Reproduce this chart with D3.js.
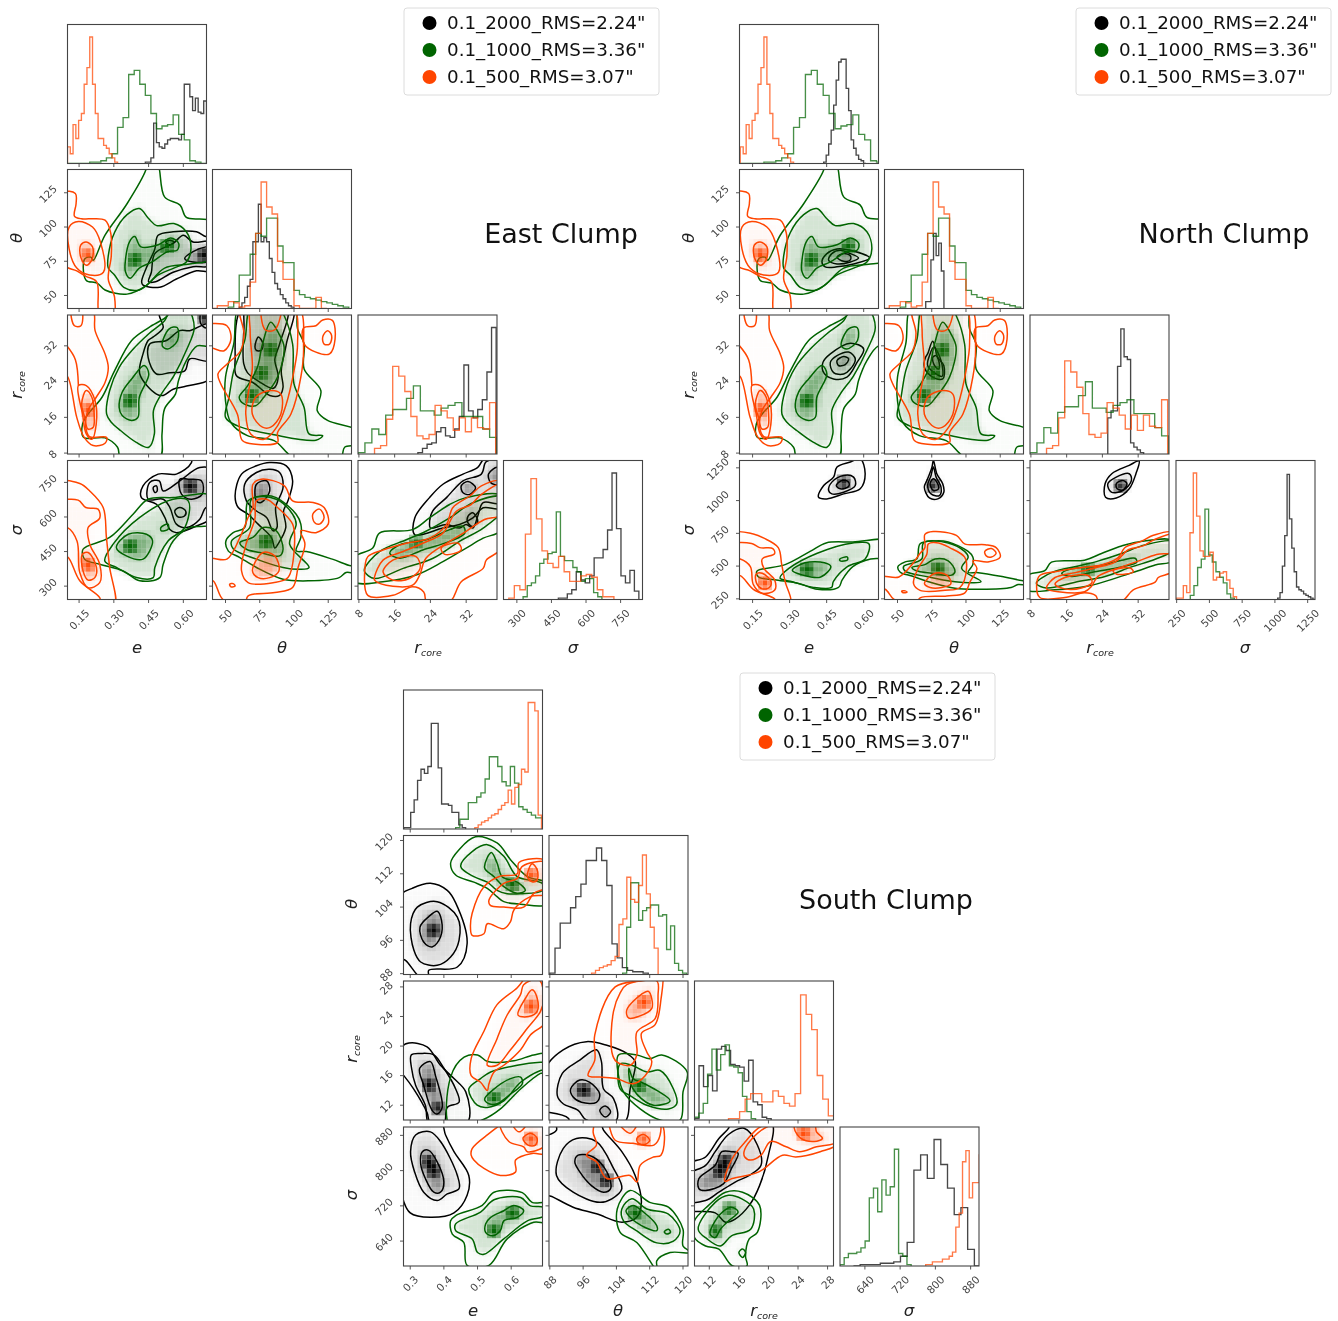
<!DOCTYPE html>
<html><head><meta charset="utf-8">
<script src="https://cdnjs.cloudflare.com/ajax/libs/d3/7.8.5/d3.min.js"></script>
<style>html,body{margin:0;padding:0;background:#fff}svg{display:block;filter:blur(.35px)}text{font-family:"DejaVu Sans",sans-serif}</style>
</head><body><svg id="c" width="1338" height="1321"></svg>
<script>
// ---------- legend / axes ----------
const legendLabels=['0.1_2000_RMS=2.24"','0.1_1000_RMS=3.36"','0.1_500_RMS=3.07"'];
const seriesColors=['#000000','#006400','#ff4500'];
const eTicksEN=[.15,.30,.45,.60], thTicksEN=[50,75,100,125], rTicksEN=[8,16,24,32];
const sTicksE=[300,450,600,750], sTicksN=[250,500,750,1000,1250];
const eTicksS=[.3,.4,.5,.6], thTicksS=[88,96,104,112,120], rTicksS=[12,16,20,24,28], sTicksS=[640,720,800,880];
// ---------- histograms: [first edge, bin width, heights] ----------
const hEOrange=[.1,.012,[12,7,28,18,31,36,57,69,91,57,36,18,18,13,11,7,4,1]];
const hEGreen=[.1,.024,[0,0,0,0,1,1,2,4,7,26,33,64,67,57,49,36,25,27,28,35,21,17,2,1,0]];
const hEBlackE=[.436,.012,[1,1,4,29,15,12,11,14,17,18,18,18,17,21,57,57,48,38,47,37,36,45]];
const hEBlackN=[.438,.0101,[1,6,14,24,42,60,73,75,75,54,38,17,11,6,3,2,0]];
const hTOrange=[40,4,[0,2,2,5,4,1,2,19,54,91,73,68,34,21,21,2,0,0,0,8,0]];
const hTGreen=[52,4,[1,5,24,24,39,54,52,65,65,45,33,33,13,10,8,7,6,5,4,3,2,1]];
const hTBlackE=[60,2,[1,4,8,16,21,48,48,75,48,51,48,36,26,18,14,10,7,4,2,1]];
const hTBlackN=[70.6,1.9,[5,5,35,54,38,47,27]];
const hROrange=[11.5,1.355,[4,6,25,63,56,45,27,13,11,14,35,31,26,17,26,16,26,19,18,37]];
const hRGreen=[7.8,1.55,[1,8,18,14,28,32,32,40,49,31,31,28,33,35,37,27,27,27,18,12]];
const hROrangeN=[11.5,1.355,[4,6,26,67,59,48,29,14,12,15,37,33,28,18,28,17,28,20,19,39]];
const hRGreenN=[7.8,1.55,[1,8,19,15,30,34,34,42,52,33,33,30,35,37,39,29,29,29,19,13]];
const hRBlackE=[21.2,1.03,[1,4,7,8,16,19,13,12,18,27,64,31,26,32,39,59,91]];
const hRBlackN=[25.2,.73,[26,31,31,63,90,70,68,8,5,3,1]];
const hSOrangeE=[265,24,[1,10,7,47,87,58,35,26,23,31,20,13,13,17,18,16,7,2,2]];
const hSGreenE=[327,18,[2,10,12,17,26,29,33,34,63,31,28,28,23,20,13,15,15,5,2]];
const hSBlackE=[480,19.4,[1,1,4,7,20,14,12,17,30,30,36,50,91,51,17,12,21,6]];
const hSOrangeN=[250,25.4,[1,1,10,5,48,91,60,35,31,31,34,14,16,19,20,14,8,2]];
const hSGreenN=[354,28,[3,10,23,29,65,32,27,20,16,12,4,1]];
const hSBlackN=[1021,18,[1,5,24,46,90,58,37,20,9,7,6,4,3,2,1,0]];
const hESBlack=[.281,.0102,[1,1,12,21,35,43,40,45,76,76,44,18,18,17,12,12,3,1]];
const hESGreen=[.435,.0125,[1,7,7,19,19,23,26,36,52,52,45,34,31,45,33,16,14,12,10,8,8]];
const hESOrange=[.492,.0099,[1,3,5,6,8,10,11,14,17,19,28,18,30,32,43,41,91,91,85,10,0]];
const hTSBlack=[88,1.245,[1,19,37,37,48,56,65,82,82,91,82,64,22,12,5,3,2,2,1]];
const hTSGreen=[105.5,.96,[1,34,66,66,39,46,48,50,50,42,43,18,35,8,3,1]];
const hTSOrange=[98.04,.94,[1,3,5,6,7,10,13,36,40,70,54,52,64,86,58,34,19]];
const hRSBlack=[10,.61,[1,39,24,32,21,51,53,50,40,39,38,28,43,13,11,2,1]];
const hRSGreen=[10,.59,[2,5,12,33,51,36,47,54,39,38,34,17,6,1]];
const hRSOrange=[14.6,.75,[1,1,6,15,19,19,13,13,21,17,12,10,19,90,76,65,32,15,3]];
const hSSGreen=[583.5,9.5,[1,6,9,9,10,13,18,49,56,39,62,51,57,84,9,7,1]];
const hSSBlack=[614,15.25,[0,1,1,1,2,2,3,7,17,69,80,63,91,73,56,37,42,12,0]];
const hSSOrange=[778,7.6,[1,1,3,3,3,5,5,7,10,28,38,75,83,49,60,60,80]];
// ---------- credible contours [level, points]: level 0 open line, 1-3 nested, 4 inner line with faint density, 9 density peak ----------
const oET=[[1,[[.08,125],[.134,124.5],[.137,117],[.13,108],[.16,106],[.195,106],[.262,105],[.286,96],[.289,79],[.276,62],[.303,49],[.296,35],[.24,35],[.226,60],[.18,64],[.14,68],[.08,73]]],
[2,[[.107,100],[.147,104],[.208,100],[.242,89],[.255,67],[.195,65],[.14,70],[.107,84]]],
[3,[[.157,86.7],[.181,89],[.208,85.5],[.205,76],[.181,72],[.157,78]]],[9,[[.185,80]]]];
const oER=[[1,[[.208,40],[.219,35.4],[.262,30.2],[.276,27.2],[.262,23.8],[.224,20.5],[.188,17.5],[.178,14.1],[.195,11.7],[.269,11.5],[.262,10.2],[.211,9.7],[.17,11.7],[.14,16],[.097,25.3],[.07,25],[.07,40]]],
[2,[[.147,23.1],[.165,16.7],[.181,12.3],[.205,11.1],[.224,14.5],[.219,19.7],[.181,23.1]]],
[0,[[.097,32],[.134,28.9],[.147,23.1]]],
[1,[[.118,40],[.13,36.5],[.158,36.5],[.16,40]]],
[3,[[.161,19],[.181,22],[.205,20.5],[.215,16.7],[.211,13.8],[.188,13.4],[.174,16]]],[9,[[.185,18]]]];
const oES=[[1,[[.066,750],[.153,745],[.196,713],[.254,641],[.268,511],[.282,381],[.304,221],[.246,221],[.239,250],[.153,323],[.1,427],[.066,427]]],
[2,[[.066,663],[.146,673],[.179,641],[.232,634],[.239,595],[.189,554],[.196,482],[.239,395],[.239,315],[.189,293],[.153,359],[.141,496],[.1,554],[.066,554]]],
[3,[[.164,438],[.189,446],[.225,381],[.218,337],[.189,326],[.167,366]]],[9,[[.195,385]]]];
const oTR=[[1,[[61,41],[63.5,34.7],[61,30.9],[51,27.9],[44.5,25.7],[46.5,23.5],[58.7,16.7],[62.3,10.8],[72,10],[88,10.4],[88,12.6],[97.7,16.7],[105,25],[107,31.7],[102.6,41]]],
[2,[[66.5,21.2],[64.8,16.7],[68.4,12.3],[78.2,11.1],[88,14.1],[94,18.6],[100,26.4],[102.6,32.4],[99,41],[69.6,41],[68,35],[69.6,27]]],
[4,[[69.6,16.7],[72,20.5],[83,22],[90.4,21.2],[90.4,16.7],[83,13.8],[77,13.8]]],
[4,[[77,41],[79,35.6],[86,35.6],[90,41]]],
[1,[[35,37],[40,37],[51,36.5],[54,33.5],[49,30.9],[40,31.5],[35,31.5]]],
[1,[[107,36],[116,36.5],[121,37.8],[128,37.7],[130,33.5],[126,30.2],[116,30.6],[107.5,32.4]]],
[2,[[121,34],[124.5,35.4],[127.5,34.3],[126,32.4],[122,32.4]]]];
const oTS=[[1,[[70,742],[76,764],[93,735],[99,670],[114,663],[122,641],[125,569],[116,532],[105,540],[108,482],[103,381],[99,294],[86,272],[66.5,258],[64,221],[53,221],[47,250],[41,323],[37,323],[37,417],[51,417],[60.5,511],[66.5,598],[70,641]]],
[2,[[72.6,670],[80,677],[88,641],[99,569],[100.4,482],[95.6,337],[84.7,315],[66.5,315],[61.7,366],[65,482],[71.4,590]]],
[3,[[69.7,366],[77.4,446],[86,431],[89,366],[82.3,337],[73.8,337]]],
[2,[[113.7,612],[118.6,634],[122,598],[118.6,569],[115,576]]],
[2,[[53,308],[55.6,311],[57,301],[54,297]]]];
const oRS=[[1,[[10,428],[13.4,457],[18.6,486],[23.8,508],[27.6,567],[29,640],[32.8,691],[35.4,735],[40,754],[40,468],[36.5,413],[35.8,377],[30.9,319],[28.3,231],[23.2,231],[22.5,275],[20,297],[15.6,260],[10,260],[9.3,362]]],
[2,[[11.5,340],[13.4,413],[17.9,450],[22.3,486],[26.8,530],[29.8,625],[33.1,654],[35.4,698],[40,742],[40,611],[36.1,589],[32,538],[28.3,494],[23,421],[21.6,348],[20,304],[14.1,304],[11.5,326]]],
[4,[[13.4,362],[15.6,413],[20.8,428],[21.7,377],[19.3,333],[15.6,326]]],
[2,[[26.4,465],[30.2,486],[30.9,457],[27.2,438]]]];
const gET=[[1,[[.211,75.7],[.262,94],[.357,117],[.438,141.6],[.444,148],[.485,148],[.519,122],[.586,116],[.613,107],[.72,104],[.72,77],[.627,73],[.519,70],[.438,57],[.357,51],[.262,54],[.228,59],[.181,61],[.168,70],[.176,77],[.201,78]]],
[2,[[.276,79],[.303,96],[.357,109],[.41,113.5],[.451,106],[.485,101],[.559,102.5],[.613,96.5],[.633,84],[.613,74.5],[.559,70],[.492,65],[.41,54],[.343,56],[.303,65],[.276,70]]],
[3,[[.35,75.5],[.367,89],[.39,93],[.417,85.5],[.492,87],[.546,92],[.58,88],[.573,83],[.532,82],[.465,74.5],[.41,70],[.37,62.5],[.35,67.5]]],[9,[[.385,75.7],[.53,87]]]];
const gER=[[1,[[.17,11.5],[.165,14.5],[.188,16.7],[.249,20.5],[.303,26.4],[.377,33.2],[.451,36.1],[.532,38.8],[.546,41],[.72,41],[.72,32],[.66,32],[.613,28.7],[.579,24.2],[.566,21.2],[.519,17.9],[.508,12.3],[.498,7],[.33,7],[.316,9.3],[.262,11.4]]],
[2,[[.269,16.7],[.282,22],[.323,27.2],[.377,30.9],[.451,34.7],[.519,37.6],[.546,40],[.62,40],[.647,36.1],[.613,31],[.559,25.3],[.505,21.2],[.471,17.5],[.475,12.3],[.451,9.3],[.397,10.4],[.33,13],[.289,14.9]]],
[3,[[.323,18.2],[.336,21.6],[.377,24.6],[.431,27.6],[.451,25.7],[.41,20.5],[.404,16],[.377,15.3],[.336,16.4]]],
[3,[[.509,32],[.539,35.8],[.573,36.1],[.575,33.2],[.532,31.3]]],[9,[[.375,20]]]];
const gES=[[1,[[.167,460],[.282,511],[.383,612],[.448,677],[.556,684],[.72,692],[.72,569],[.628,554],[.556,496],[.513,395],[.498,337],[.412,323],[.34,366],[.239,395],[.174,417]]],
[2,[[.261,409],[.297,482],[.412,598],[.556,677],[.621,670],[.606,554],[.534,496],[.477,381],[.47,337],[.398,337],[.311,381]]],
[3,[[.311,467],[.362,525],[.441,525],[.467,496],[.426,417],[.354,431]]],
[3,[[.503,554],[.534,569],[.534,547],[.505,540]]],[9,[[.375,480]]]];
const gTR=[[1,[[61,41],[56,32.4],[50,25],[50,19.7],[53.8,14.9],[66,11.9],[85.5,10.8],[100,7],[134,7],[137,9.3],[146.5,10],[146.5,13],[124.5,15.3],[117,17.5],[119.6,22],[107.4,26.8],[107.4,32.4],[102.6,35.8],[100,41]]],
[2,[[69,41],[64,33.2],[56,26.4],[52.6,20.5],[50,16],[58.7,14.1],[85.5,12.1],[116,10.9],[121,11.9],[111,12.3],[107.4,18.2],[100,23.5],[99,32.4],[92.8,38.8],[88,41]]],
[3,[[60,20.5],[66,23],[73.3,27.2],[77,32.4],[83,37.3],[89,34.7],[92.8,31.7],[88,25],[78,20.5],[72,18.6],[63.5,19]]],[9,[[70,21],[82,31],[77,26]]]];
const gTS=[[1,[[50.3,496],[55.6,532],[64,554],[66.5,670],[77.4,692],[87,684],[101.6,612],[105,569],[105,511],[101.6,453],[109,450],[128,417],[141.6,388],[145,388],[145,359],[138,359],[133,337],[111,323],[92,330],[72.6,381],[60.5,424],[52,453]]],
[2,[[54.4,496],[67.7,554],[69,677],[87,677],[99,612],[101.6,569],[96.8,482],[111,381],[104,373],[92,381],[72.6,417],[55.6,462]]],
[3,[[60.5,489],[70,511],[77.4,554],[87,540],[92,460],[89.5,431],[75,446],[65.3,460]]],[9,[[78,490]]]];
const gRS=[[1,[[7,425],[11.1,465],[12.6,530],[20,545],[23.8,596],[28.3,654],[32,684],[40,691],[40,545],[35.8,508],[32,465],[26.8,406],[20.8,348],[13.4,319],[7,319]]],
[2,[[9.3,377],[12.6,450],[18.6,501],[23,538],[28.3,596],[33.5,662],[40,687],[40,625],[35.8,552],[30.5,494],[24.6,421],[17.9,377],[11.5,333],[9.3,362]]],
[3,[[14.9,443],[17.1,479],[23,501],[28.3,545],[31.3,560],[31.7,530],[28.3,494],[22.3,457],[17.1,421]]],[9,[[20.5,485]]]];
const kET=[[1,[[.42,60],[.44,70],[.477,84],[.491,94],[.556,96.5],[.657,96.5],[.697,93],[.72,93],[.72,68],[.657,68],[.57,62],[.498,56],[.426,57.5]]],
[2,[[.462,67],[.477,80.6],[.556,88],[.6,94],[.642,89],[.72,89],[.72,72],[.642,71],[.556,67],[.48,60],[.45,60]]],
[3,[[.524,89],[.542,90.4],[.559,89],[.542,87]]],
[3,[[.606,77],[.642,82],[.697,85.5],[.72,85.5],[.72,75.7],[.642,74.5]]],[9,[[.69,79]]]];
const kER=[[1,[[.412,25.7],[.484,21.2],[.513,20.9],[.556,22.3],[.614,23],[.72,25],[.72,41],[.5,41],[.496,38.8],[.513,36.1],[.47,34],[.448,33.2],[.426,30.2]]],
[2,[[.448,29.4],[.455,32.4],[.527,33.2],[.585,35.4],[.628,35.4],[.715,36.9],[.715,28.7],[.628,29.1],[.606,26.4],[.542,26],[.484,25.7]]],
[3,[[.68,40],[.675,37],[.70,36],[.72,37],[.72,41]]],[9,[[.69,38.5]]]];
const kES=[[1,[[.419,684],[.426,735],[.491,786],[.57,786],[.635,836],[.635,900],[.72,900],[.72,598],[.657,561],[.57,532],[.542,546],[.52,598],[.484,655]]],
[2,[[.448,677],[.513,677],[.542,641],[.57,569],[.614,554],[.671,590],[.697,641],[.73,641],[.73,800],[.671,815],[.585,757],[.513,713],[.496,757],[.455,750]]],
[3,[[.585,764],[.621,764],[.678,757],[.682,699],[.635,677],[.592,699]]],
[2,[[.563,626],[.585,641],[.61,626],[.606,605],[.578,600]]],
[3,[[.47,728],[.484,735],[.487,713],[.477,706]]],[9,[[.625,725]]]];
const kTR=[[1,[[63,41],[57,28.7],[58,25.3],[70,23.8],[77.4,22],[82.3,20.9],[89.5,20.9],[92,22.7],[90.7,26.4],[94.4,32.4],[99,41]]],
[2,[[65.5,41],[63.5,36],[63.3,28],[66,26],[74.5,24],[85,22.5],[88.5,25],[86,29],[89.5,32.4],[95,41]]],
[3,[[71.5,31.8],[74,34],[77.4,32.4],[76,31],[72.5,31]]]];
const kTS=[[1,[[57,692],[61.7,786],[72.6,822],[82.3,836],[94.4,822],[99,757],[95.6,670],[92.4,626],[94,554],[88.3,482],[86,465],[83.5,511],[73.8,569],[66.5,612],[59.3,641]]],
[2,[[64,742],[72.6,793],[82.3,807],[89.5,793],[92,728],[86.6,641],[87.6,554],[84.7,540],[80,598],[72.6,626],[65.3,670]]],
[3,[[72.6,742],[80,757],[82.3,713],[76,663],[72.6,670]]]];
const kRS=[[1,[[20.5,523],[20.5,596],[23.8,684],[26.8,742],[31.3,786],[34.6,815],[36,850],[40,850],[40,640],[35.8,640],[33.5,596],[30.5,567],[26.8,552]]],
[2,[[23.8,567],[24.5,625],[27.6,684],[31.3,757],[35.4,786],[36.5,840],[40,840],[40,662],[35.8,662],[34.6,604],[33.5,552],[32,567],[30.5,552],[27.6,567],[24,552]]],
[3,[[30.9,735],[32.4,754],[34.1,727],[32.8,698],[31.3,705]]],
[3,[[32.4,603],[33.5,618],[34.6,581],[33.5,559],[32.4,574]]],
[3,[[37,786],[39,815],[39,742],[37.5,749]]]];
const nET=[[1,[[.431,74.5],[.451,80.6],[.492,84],[.546,83],[.624,77.4],[.559,73],[.492,70.9],[.444,70.9]]],
[2,[[.458,75.7],[.471,80.6],[.505,83],[.546,80.6],[.579,77.4],[.546,74.5],[.492,73]]],
[3,[[.492,78],[.519,80.6],[.546,79],[.546,76],[.519,75]]]];
const nER=[[1,[[.435,28.3],[.465,30.2],[.546,32.6],[.6,31.3],[.573,28.3],[.532,25],[.478,24.6],[.438,26]]],
[2,[[.465,28.3],[.492,29.8],[.539,30.6],[.566,29.1],[.546,26.8],[.519,25.7],[.478,26]]],
[3,[[.492,28.7],[.519,29.6],[.539,29.1],[.525,27.8],[.498,27.6]]]];
const nES=[[1,[[.417,1026],[.438,1115],[.478,1179],[.492,1256],[.546,1294],[.586,1320],[.606,1205],[.586,1090],[.519,1051],[.451,1013]]],
[2,[[.458,1077],[.471,1141],[.519,1192],[.559,1179],[.566,1115],[.519,1064],[.471,1051]]],
[3,[[.489,1115],[.512,1154],[.539,1141],[.539,1107],[.505,1090]]],[9,[[.515,1130]]]];
const nTR=[[1,[[72,30.2],[75.7,33],[79.4,29.4],[83.8,27.6],[83,24.6],[75.7,25],[69.6,27.2],[70.4,29.4]]],
[2,[[73.3,29.8],[76.5,31.7],[81.8,28.7],[82.6,25.2],[78.2,25.7],[72,27.6]]],
[3,[[75.7,29.4],[78.2,29.8],[80.6,27.9],[80,26.8],[77,27.6]]]];
const nTS=[[1,[[76.2,1307],[78.7,1205],[83,1128],[83.8,1064],[79.4,1013],[73.3,1020],[69.6,1102],[72,1166],[75.2,1256]]],
[2,[[76.2,1256],[78.2,1179],[81.8,1102],[80.6,1038],[74.5,1051],[72,1115],[74.5,1192]]],
[3,[[76.2,1166],[78.7,1141],[79.9,1090],[76.2,1077],[73.8,1128]]],[9,[[77,1125]]]];
const nRS=[[1,[[24.6,1128],[26.1,1205],[30,1269],[32.2,1302],[31.5,1205],[30,1090],[27.1,1020],[24.7,1026]]],
[2,[[25.2,1128],[27.1,1179],[30,1205],[30.5,1154],[28.6,1077],[26,1064]]],
[3,[[27.1,1128],[28.6,1154],[29.5,1128],[28.6,1082],[27.3,1090]]],[9,[[28.2,1125]]]];
const skET=[[1,[[.266,106.5],[.306,108.5],[.36,109.7],[.41,108],[.435,105],[.469,95.2],[.44,89.6],[.355,88.8],[.355,87],[.331,87],[.286,91.2],[.266,92]]],
[2,[[.301,100],[.321,104],[.38,105.3],[.44,101.6],[.445,96],[.42,92],[.38,90],[.331,90.8],[.311,93.6]]],
[3,[[.329,99.2],[.355,101.7],[.38,103],[.393,100.8],[.39,96.8],[.365,94.4],[.34,95.6]]],[9,[[.368,98.5]]]];
const skER=[[1,[[.271,19.7],[.296,20.4],[.35,19.9],[.39,17.4],[.43,15.6],[.465,13.8],[.47,9.7],[.36,9.7],[.35,11],[.31,14.2],[.281,16],[.271,16.5]]],
[2,[[.303,18.8],[.331,19],[.37,18.8],[.4,17],[.435,14.2],[.445,12.4],[.41,11.7],[.4,9.5],[.355,9.5],[.345,12],[.316,14.7],[.304,17]]],
[3,[[.328,17],[.36,17.9],[.375,16],[.395,11.7],[.38,10.8],[.365,11.3],[.34,14.7]]],[9,[[.38,11.5],[.36,15]]]];
const skES=[[1,[[.271,759],[.3,704],[.36,694],[.43,704],[.469,744],[.474,789],[.43,843],[.405,881],[.39,911],[.271,911]]],
[2,[[.301,843],[.316,881],[.36,888],[.39,866],[.44,789],[.445,759],[.41,747],[.38,732],[.34,751],[.313,797]]],
[3,[[.331,816],[.336,843],[.355,846],[.38,820],[.4,774],[.39,751],[.37,751],[.345,782]]],[9,[[.375,795],[.36,820]]]];
const skTR=[[1,[[87,17],[91.2,19.5],[96.8,20.6],[101.7,20.1],[106.5,19],[108.5,17.9],[107.3,14.2],[105.7,9.5],[92.8,9.5],[92.5,10.2],[88,11],[87,11]]],
[2,[[89.8,13.3],[91,16.3],[95.2,18.1],[99.2,19.5],[100.4,17.9],[100.9,14.2],[103.3,12.9],[104,10],[96.8,10],[94.8,11.3],[91.2,12.2]]],
[3,[[93,14.2],[95.2,15.4],[97.6,15.1],[100,13.5],[99.2,12.4],[95.6,12.4],[93.6,13.1]]],
[3,[[100,11.3],[101.3,11.9],[102.6,11.1],[101.3,10.4]]],[9,[[95.6,14]]]];
const skTS=[[1,[[87,748],[88.8,740],[93.6,717],[99.2,702],[105.3,683],[108.9,694],[110,728],[108.5,789],[105.3,843],[100.9,892],[100,910],[89.6,910],[89.6,892],[87.6,881],[87,881]]],
[2,[[89.6,789],[91.2,850],[94.4,873],[99.2,866],[103.3,805],[105.3,759],[102.9,736],[100,728],[93.6,751]]],
[3,[[94,820],[94.8,835],[98.4,831],[101.7,797],[102.6,759],[100.9,751],[98,766],[95.2,797]]],[9,[[99,805],[101.5,780]]]];
const skRS=[[1,[[9,812],[11.5,831],[13.3,873],[14.6,896],[15,910],[20.4,910],[20,835],[18.8,766],[17.4,721],[15.5,690],[14.2,683],[12.8,704],[10,707],[9,707]]],
[2,[[9,789],[11.5,812],[12.8,843],[14.6,882],[16.7,896],[18.5,858],[19,812],[17.4,789],[15.5,774],[13.3,751],[11.5,732],[9,732]]],
[3,[[10.6,759],[10.6,782],[12.8,812],[13.7,843],[15,843],[15.9,839],[15,805],[13.9,770],[11.5,755]]],[9,[[13.7,800],[14.3,820]]]];
const sgET=[[1,[[.42,114.6],[.445,117.8],[.494,120.9],[.558,119.4],[.598,115.4],[.648,111.3],[.707,109.7],[.707,104.7],[.628,104.7],[.578,105.3],[.558,106.5],[.529,108.5],[.489,110],[.435,111.7]]],
[2,[[.45,113.8],[.485,117.4],[.529,119],[.578,116.2],[.618,111.3],[.692,109.7],[.692,108],[.628,107.2],[.588,107.2],[.558,108],[.529,110],[.489,111.3]]],
[3,[[.521,113.4],[.541,117.1],[.558,114.6],[.573,111.3],[.618,110],[.642,108],[.618,107.3],[.578,108.9],[.549,111.3]]],[9,[[.61,109]]]];
const sgER=[[1,[[.42,15.8],[.46,18.5],[.5,18.8],[.53,17.9],[.608,18],[.667,18.8],[.707,18.9],[.707,16.5],[.687,16.3],[.628,14.2],[.568,11.5],[.519,10.1],[.42,9]]],
[2,[[.474,14.2],[.509,15.6],[.539,16.5],[.618,17.4],[.687,17.8],[.707,17.8],[.707,16.9],[.687,16.7],[.628,15.1],[.578,12.6],[.529,11.7],[.499,12]]],
[3,[[.521,12.8],[.544,14],[.598,15.6],[.628,15.8],[.633,14.9],[.598,13.5],[.558,12.2],[.534,12.2]]],[9,[[.545,12.6]]]];
const sgES=[[1,[[.42,686],[.435,698],[.514,721],[.549,751],[.633,750],[.662,728],[.707,725],[.707,683],[.667,683],[.588,645],[.534,585],[.469,585],[.459,637],[.425,656]]],
[2,[[.435,679],[.509,706],[.549,734],[.628,739],[.657,720],[.697,716],[.697,697],[.648,686],[.578,645],[.519,610],[.5,614],[.484,645],[.435,664]]],
[3,[[.524,679],[.539,694],[.578,709],[.608,721],[.637,709],[.618,694],[.578,686],[.568,664],[.544,652],[.524,660]]],[9,[[.548,665],[.61,708]]]];
const sgTR=[[1,[[104.5,18.8],[108.9,18.8],[112,18.3],[114.9,18.8],[121,16.5],[120,13.8],[119.3,10],[114.5,10],[109.7,11.5],[105.7,13.8],[104.5,16]]],
[2,[[104.9,17.6],[107.7,17.4],[111.3,16.5],[114.5,16.7],[117.7,14.2],[118.5,12.2],[116.5,11.5],[111.3,12],[107.3,13.3],[104.9,14.2]]],
[3,[[107,17],[108,15.6],[110,15.1],[113.7,14],[116.9,12.6],[112.9,12],[108.9,13.5],[107.3,15.1]]],[9,[[109,14.5]]]];
const sgTS=[[1,[[104.2,713],[107.3,755],[112,728],[116.5,717],[120,667],[120,629],[122,614],[116.9,614],[113.7,595],[114,570],[108.9,637],[104.9,660]]],
[2,[[105.3,713],[107.7,736],[111.3,713],[116.5,701],[119.3,663],[117.7,640],[113.7,636],[108.9,663],[105.7,686]]],
[3,[[106.3,709],[108,721],[110.5,706],[113.7,675],[113.7,664],[110.9,671],[107.3,694]]],
[3,[[115.5,661],[116.5,667],[117,660],[116.1,656]]],[9,[[108,707]]]];
const sgRS=[[1,[[10,686],[11.9,721],[14.2,751],[16.5,751],[18.8,721],[18.5,660],[17.4,645],[16.9,606],[17.1,584],[15.1,584],[13.3,622],[11.5,629],[10,648]]],
[2,[[10.5,667],[12.8,728],[14.6,744],[16.4,736],[18,713],[17.6,667],[15,652],[13.5,629],[11.7,645]]],
[3,[[12.1,656],[12.8,686],[14,709],[15,717],[15.9,706],[14.6,686],[13.5,667],[12.8,648]]],
[2,[[16,614],[16.5,622],[16.9,614],[16.5,603]]],[9,[[14.6,710],[13,665]]]];
const soET=[[1,[[.479,99.2],[.484,102.5],[.519,108.9],[.563,111.3],[.618,112],[.623,114.7],[.707,115],[.707,107.3],[.657,106.5],[.608,103.3],[.598,100.5],[.578,98.8],[.529,100],[.519,97.6],[.484,97.2]]],
[2,[[.534,105.7],[.578,109.7],[.618,110.9],[.633,113.8],[.707,114.6],[.707,108.9],[.667,107.3],[.637,104],[.578,104],[.538,104.4]]],
[3,[[.648,111.3],[.662,114.4],[.677,113],[.677,110.5],[.662,110.1]]],[9,[[.665,112]]]];
const soER=[[1,[[.481,16],[.481,18.3],[.519,22],[.558,25.6],[.618,27.9],[.637,29],[.648,30],[.707,30],[.707,23.5],[.657,21.5],[.628,19.5],[.578,17.4],[.549,16.5],[.534,14.9],[.529,14],[.509,15.1]]],
[2,[[.529,17.4],[.558,21],[.588,24.2],[.628,27],[.637,28.3],[.682,29],[.697,26.5],[.687,24.7],[.648,22.4],[.598,19.5],[.558,17.4]]],
[3,[[.62,24.2],[.643,26.5],[.662,27.6],[.677,26.5],[.677,24.7],[.652,24]]],[9,[[.66,25.6]]]];
const soES=[[1,[[.481,835],[.484,850],[.529,881],[.588,910],[.707,910],[.707,839],[.662,839],[.613,824],[.613,797],[.568,789],[.519,805],[.489,824]]],
[2,[[.568,910],[.593,866],[.637,854],[.648,843],[.697,854],[.707,873],[.707,910]]],
[3,[[.635,873],[.657,885],[.677,873],[.672,858],[.65,858]]],
[3,[[.602,910],[.623,888],[.648,910]]],[9,[[.66,875]]]];
const soTR=[[1,[[97.2,16],[98.8,18.1],[98.8,21.5],[103.7,28],[111.7,29],[114.9,30],[114.7,26.3],[113.3,22.9],[110,21.7],[111.3,19.2],[112.5,17.9],[110.9,16],[108,14.9],[104,15.6],[100,15.8]]],
[2,[[102.9,19.2],[103.3,24.7],[104.9,27.2],[106.5,28.3],[113.7,28.8],[114,26.9],[113.3,23.7],[108.9,21.9],[108.9,18.8],[107.3,17.4],[104,17.9]]],
[3,[[106.5,24.9],[110,27],[111.7,27.4],[112.5,25.1],[109.3,24],[106.9,23.8]]],[9,[[110.5,26]]]];
const soTS=[[1,[[96.8,835],[99.2,858],[98.4,888],[99.2,910],[114.6,910],[114.7,835],[112.9,831],[109.7,812],[108.9,774],[107.3,789],[101.7,782],[99.2,820]]],
[2,[[102,910],[102.3,900],[103.7,869],[108,862],[113,858],[114.5,881],[114.2,910]]],
[3,[[108.9,873],[110.5,882],[112,869],[111,860],[109.3,862]]],
[3,[[104.5,910],[107.3,885],[109,910]]],[9,[[110.5,872]]]];
const soRS=[[1,[[14.1,776],[15.1,827],[16.9,866],[19,900],[23.7,911],[29.5,911],[29.5,862],[27,843],[23.7,831],[21.9,835],[18.7,797],[15.1,782]]],
[2,[[16.7,843],[17.6,869],[19.9,900],[23.7,911],[29.5,911],[29.5,867],[26.5,854],[24.2,843],[22.4,854],[20.3,866],[19,835],[17.6,824],[16.8,831]]],
[3,[[23.5,896],[24.4,873],[26.2,866],[27.3,873],[26.5,888],[26.2,907],[23.7,907]]],[9,[[25,880]]]];
// ---------- drawing ----------
const svg=d3.select('#c');
const panelSize=139;
const PAIRS=[[0,1],[0,2],[0,3],[1,2],[1,3],[2,3]];
const LEVEL_ALPHA=[{1:.02,2:.13,3:.45,4:.13},{1:.02,2:.17,3:.5,4:.17},{1:.012,2:.04,3:.42,4:.07}];
const corners=[
 {ox:[67.5,212.5,358,503.5],oy:[24.5,169.5,315,460.5],
  dom:[[.1,.7],[40.5,142],[7.8,38.9],[242,845]],ticks:[eTicksEN,thTicksEN,rTicksEN,sTicksE],fmt:d3.format('.2f'),
  hists:[[hEBlackE,hEGreen,hEOrange],[hTBlackE,hTGreen,hTOrange],[hRBlackE,hRGreen,hROrange],[hSBlackE,hSGreenE,hSOrangeE]],
  sets:[[kET,kER,kES,kTR,kTS,kRS],[gET,gER,gES,gTR,gTS,gRS],[oET,oER,oES,oTR,oTS,oRS]],
  lx:[137,282,428,573],lyb:653,ylx:17,yly:[238,385,530],leg:[404,8],title:['East Clump',561,243]},
 {ox:[739.5,884.5,1030,1176],oy:[24.5,169.5,315,460.5],
  dom:[[.097,.66],[40.5,142],[7.8,38.9],[245,1306]],ticks:[eTicksEN,thTicksEN,rTicksEN,sTicksN],fmt:d3.format('.2f'),
  hists:[[hEBlackN,hEGreen,hEOrange],[hTBlackN,hTGreen,hTOrange],[hRBlackN,hRGreenN,hROrangeN],[hSBlackN,hSGreenN,hSOrangeN]],
  sets:[[nET,nER,nES,nTR,nTS,nRS],[gET,gER,gES,gTR,gTS,gRS],[oET,oER,oES,oTR,oTS,oRS]],
  lx:[809,954,1100,1245],lyb:653,ylx:689,yly:[238,385,530],leg:[1076,8],title:['North Clump',1224,243]},
 {ox:[403.5,549,694.5,840],oy:[690,835.5,981,1127],
  dom:[[.28,.693],[87.8,121.2],[10,28.8],[583.5,899]],ticks:[eTicksS,thTicksS,rTicksS,sTicksS],fmt:d3.format('.1f'),
  hists:[[hESBlack,hESGreen,hESOrange],[hTSBlack,hTSGreen,hTSOrange],[hRSBlack,hRSGreen,hRSOrange],[hSSBlack,hSSGreen,hSSOrange]],
  sets:[[skET,skER,skES,skTR,skTS,skRS],[sgET,sgER,sgES,sgTR,sgTS,sgRS],[soET,soER,soES,soTR,soTS,soRS]],
  lx:[473,618,764,909],lyb:1316,ylx:352,yly:[904,1049,1195],leg:[740,673],title:['South Clump',886,909]}
];
let clipId=0;
function frame(g,x,y,xt,yt){
  g.append('rect').attr('x',0).attr('y',0).attr('width',panelSize).attr('height',panelSize).attr('fill','none').attr('stroke','#444').attr('stroke-width',1.1);
  g.selectAll('.xt').data(xt).join('line').attr('x1',d=>x(d)).attr('x2',d=>x(d)).attr('y1',panelSize).attr('y2',panelSize+3.5).attr('stroke','#444').attr('stroke-width',.9);
  if(yt) g.selectAll('.yt').data(yt).join('line').attr('y1',d=>y(d)).attr('y2',d=>y(d)).attr('x1',0).attr('x2',-3.5).attr('stroke','#444').attr('stroke-width',.9);
}
function rotLabel(g,cx,cy,t,side){
  const tx=g.append('text').text(t).attr('font-size',10.5).attr('fill','#444').attr('text-anchor','middle').attr('dominant-baseline','central');
  const w=tx.node().getComputedTextLength(), b=(w+10)*.707;
  const px=side==='x'?cx:cx-9-b/2, py=side==='x'?cy+8+b/2:cy+1;
  tx.attr('transform',`translate(${px},${py}) rotate(-45)`);
}
function drawDensity(g,pts,x,y,dx,dy,color,alphas){
  const N=30, sx=(dx[1]-dx[0])/N, sy=(dy[1]-dy[0])/N;
  let grid=d3.range(N).map(()=>new Array(N).fill(0));
  const polys=pts.filter(c=>c[0]>=1&&c[0]<=4);
  for(let i=0;i<N;i++)for(let j=0;j<N;j++){
    const p=[dx[0]+(i+.5)*sx,dy[0]+(j+.5)*sy];
    for(const c of polys) if(d3.polygonContains(c[1],p)) grid[i][j]=Math.max(grid[i][j],alphas[c[0]]);
  }
  const K=[[1,2,1],[2,4,2],[1,2,1]];
  const out=d3.range(N).map(()=>new Array(N).fill(0));
  for(let i=0;i<N;i++)for(let j=0;j<N;j++){
    let s=0,w=0;
    for(let a=-1;a<=1;a++)for(let b=-1;b<=1;b++){
      const ii=i+a,jj=j+b;
      if(ii<0||jj<0||ii>=N||jj>=N)continue;
      s+=grid[ii][jj]*K[a+1][b+1];w+=K[a+1][b+1];
    }
    out[i][j]=s/w;
  }
  pts.filter(c=>c[0]===9).forEach(c=>c[1].forEach(p=>{
    const i=Math.floor((p[0]-dx[0])/sx), j=Math.floor((p[1]-dy[0])/sy);
    for(let a=-1;a<=1;a++)for(let b=-1;b<=1;b++){
      const ii=i+a,jj=j+b;
      if(ii<0||jj<0||ii>=N||jj>=N)continue;
      const add=(a===0&&b===0)?.55:((a===0||b===0)?.38:.26);
      out[ii][jj]=Math.min(.97,out[ii][jj]+add);
    }
  }));
  const cells=[];
  out.forEach((col,i)=>col.forEach((v,j)=>{if(v>.006)cells.push({i,j,v});}));
  g.selectAll(null).data(cells).join('rect')
    .attr('x',d=>x(dx[0]+d.i*sx)).attr('width',panelSize/N)
    .attr('y',d=>y(dy[0]+(d.j+1)*sy)).attr('height',panelSize/N)
    .attr('fill',color).attr('fill-opacity',d=>d.v);
}
corners.forEach(cn=>{
  const scales=cn.dom.map(d=>d3.scaleLinear().domain(d).range([0,panelSize]));
  const yScales=cn.dom.map(d=>d3.scaleLinear().domain(d).range([panelSize,0]));
  cn.hists.forEach((hs,i)=>{
    const g=svg.append('g').attr('transform',`translate(${cn.ox[i]},${cn.oy[i]})`);
    const id='cp'+(clipId++);
    g.append('clipPath').attr('id',id).append('rect').attr('width',panelSize).attr('height',panelSize);
    const x=scales[i], y=d3.scaleLinear().domain([0,100]).range([panelSize,0]);
    const line=d3.line().x(d=>x(d[0])).y(d=>y(d[1])).curve(d3.curveStepAfter);
    const pl=g.append('g').attr('clip-path',`url(#${id})`);
    hs.forEach((h,s)=>{
      const [st,stp,vals]=h;
      const pts=[[st,0]].concat(vals.map((v,k)=>[st+k*stp,v]),[[st+vals.length*stp,0]]);
      pl.append('path').attr('d',line(pts)).attr('fill','none').attr('stroke',seriesColors[s]).attr('stroke-width',1.35).attr('stroke-opacity',.72);
    });
    frame(g,x,y,cn.ticks[i],null);
    if(i===3) cn.ticks[i].forEach(t=>rotLabel(g,x(t),panelSize,String(t),'x'));
  });
  PAIRS.forEach((pr,pi)=>{
    const [cx,cy]=pr;
    const g=svg.append('g').attr('transform',`translate(${cn.ox[cx]},${cn.oy[cy]})`);
    const id='cp'+(clipId++);
    g.append('clipPath').attr('id',id).append('rect').attr('width',panelSize).attr('height',panelSize);
    const x=scales[cx], y=yScales[cy];
    const pl=g.append('g').attr('clip-path',`url(#${id})`);
    const closed=d3.line().x(d=>x(d[0])).y(d=>y(d[1])).curve(d3.curveCatmullRomClosed.alpha(.5));
    const open=d3.line().x(d=>x(d[0])).y(d=>y(d[1])).curve(d3.curveCatmullRom.alpha(.5));
    cn.sets.forEach((set,s)=>{
      const cs=set[pi];
      drawDensity(pl.append('g'),cs,x,y,cn.dom[cx],cn.dom[cy],seriesColors[s],LEVEL_ALPHA[s]);
      cs.filter(c=>c[0]<=4).forEach(c=>{
        pl.append('path').attr('d',(c[0]===0?open:closed)(c[1])).attr('fill','none').attr('stroke',seriesColors[s]).attr('stroke-width',1.5);
      });
    });
    frame(g,x,y,cn.ticks[cx],cn.ticks[cy]);
    if(cy===3) cn.ticks[cx].forEach(t=>rotLabel(g,x(t),panelSize,cx===0?cn.fmt(t):String(t),'x'));
    if(cx===0) cn.ticks[cy].forEach(t=>rotLabel(g,0,y(t),String(t),'y'));
  });
  const tt=(px,py,rot,k)=>{
    const t=svg.append('text').attr('transform',`translate(${px},${py})`+(rot?' rotate(-90)':'')).attr('text-anchor','middle').attr('font-size',16.5).attr('fill','#222').attr('font-style','italic');
    if(k==='r'){t.append('tspan').text('r');t.append('tspan').text('core').attr('font-size',9.5).attr('dy',2.5);}
    else t.text(k);
  };
  ['e','θ','r','σ'].forEach((k,i)=>tt(cn.lx[i],cn.lyb,false,k));
  ['θ','r','σ'].forEach((k,i)=>tt(cn.ylx+5,cn.yly[i],true,k));
  const lg=svg.append('g').attr('transform',`translate(${cn.leg[0]},${cn.leg[1]})`);
  lg.append('rect').attr('width',255).attr('height',87).attr('rx',3).attr('fill','#fff').attr('stroke','#dcdcdc').attr('stroke-width',1);
  legendLabels.forEach((l,i)=>{
    lg.append('circle').attr('cx',25.5).attr('cy',15+27*i).attr('r',7).attr('fill',seriesColors[i]);
    lg.append('text').attr('x',43).attr('y',21+27*i).attr('font-size',18.3).attr('fill','#111').text(l);
  });
  svg.append('text').attr('x',cn.title[1]).attr('y',cn.title[2]).attr('text-anchor','middle').attr('font-size',27).attr('fill','#111').text(cn.title[0]);
});
</script></body></html>
